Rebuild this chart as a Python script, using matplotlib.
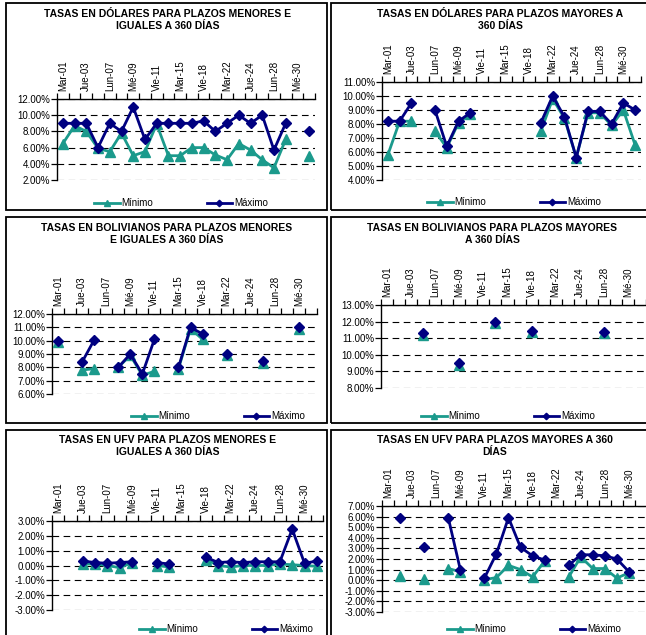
import numpy as np
import matplotlib
matplotlib.use('Agg')
import matplotlib.pyplot as plt
from matplotlib.patches import Rectangle
from matplotlib.ticker import FixedLocator, FuncFormatter

plt.rcParams['font.family'] = ['Liberation Sans', 'DejaVu Sans']

nan = np.nan

# dias del mes (solo se rotulan los de indice par)
dias = ['Mar-01', 'Mié-02', 'Jue-03', 'Vie-04', 'Lun-07', 'Mar-08', 'Mié-09', 'Jue-10',
        'Vie-11', 'Lun-14', 'Mar-15', 'Mié-16', 'Vie-18', 'Lun-21', 'Mar-22', 'Mié-23',
        'Jue-24', 'Vie-25', 'Lun-28', 'Mar-29', 'Mié-30', 'Jue-31']

# tasas en %
usd_menor_min = [6.5, 8.7, 8.0, 5.9, 5.5, 7.8, 5.0, 5.5, 8.9, 5.0, 5.0, 6.0, 6.0, 5.1, 4.5, 6.5, 5.7, 4.5, 3.5, 7.0, nan, 5.0]
usd_menor_max = [9.0, 9.0, 9.0, 6.0, 9.0, 8.0, 11.0, 7.0, 9.0, 9.0, 9.0, 9.0, 9.3, 8.0, 9.0, 10.0, 9.0, 10.0, 5.7, 9.0, nan, 8.0]

usd_mayor_min = [5.8, 8.2, 8.2, nan, 7.5, 6.3, 8.1, 8.7, nan, nan, nan, nan, nan, 7.5, 9.8, 8.4, 5.6, 8.8, 8.8, 7.9, 9.0, 6.5]
usd_mayor_max = [8.2, 8.2, 9.5, nan, 9.0, 6.4, 8.2, 8.8, nan, nan, nan, nan, nan, 8.1, 10.0, 8.5, 5.6, 8.9, 8.9, 8.0, 9.5, 9.0]

bs_menor_min = [9.9, nan, 7.8, 7.9, nan, 8.0, 8.9, 7.4, 7.7, nan, 7.9, 10.9, 10.1, nan, 8.9, nan, nan, 8.3, nan, nan, 10.9, nan]
bs_menor_max = [10.0, nan, 8.4, 10.05, nan, 8.0, 9.0, 7.5, 10.1, nan, 8.0, 11.0, 10.5, nan, 9.0, nan, nan, 8.45, nan, nan, 11.0, nan]

bs_mayor_min = [nan, nan, nan, 11.2, nan, nan, 9.4, nan, nan, 11.9, nan, nan, 11.35, nan, nan, nan, nan, nan, 11.3, nan, nan, nan]
bs_mayor_max = [nan, nan, nan, 11.3, nan, nan, 9.5, nan, nan, 12.0, nan, nan, 11.45, nan, nan, nan, nan, nan, 11.4, nan, nan, nan]

ufv_menor_min = [nan, nan, 0.1, 0.1, 0.0, -0.15, 0.2, nan, 0.0, -0.1, nan, nan, 0.4, 0.0, -0.1, 0.0, 0.0, 0.0, 0.1, 0.05, 0.0, -0.05]
ufv_menor_max = [nan, nan, 0.3, 0.2, 0.15, 0.2, 0.25, nan, 0.2, 0.1, nan, nan, 0.55, 0.2, 0.25, 0.2, 0.25, 0.25, 0.25, 2.45, 0.15, 0.3]

ufv_mayor_min = [nan, 0.4, nan, 0.15, nan, 1.1, 0.8, nan, 0.05, 0.25, 1.4, 1.0, 0.3, 1.8, nan, 0.3, 2.2, 1.1, 1.1, 0.2, 0.7, nan]
ufv_mayor_max = [nan, 5.9, nan, 3.1, nan, 5.9, 1.0, nan, 0.2, 2.5, 5.9, 3.1, 2.3, 1.9, nan, 1.4, 2.4, 2.4, 2.3, 2.0, 0.8, nan]

titulos = ['TASAS EN DÓLARES PARA PLAZOS MENORES E\nIGUALES A 360 DÍAS',
           'TASAS EN DÓLARES PARA PLAZOS MAYORES A\n360 DÍAS',
           'TASAS EN BOLIVIANOS PARA PLAZOS MENORES\nE IGUALES A 360 DÍAS',
           'TASAS EN BOLIVIANOS PARA PLAZOS MAYORES\nA 360 DÍAS',
           'TASAS EN UFV PARA PLAZOS MENORES E\nIGUALES A 360 DÍAS',
           'TASAS EN UFV PARA PLAZOS MAYORES A 360\nDÍAS']
series_min = [usd_menor_min, usd_mayor_min, bs_menor_min, bs_mayor_min, ufv_menor_min, ufv_mayor_min]
series_max = [usd_menor_max, usd_mayor_max, bs_menor_max, bs_mayor_max, ufv_menor_max, ufv_mayor_max]
y_lims = [(2, 12, 2), (4, 11, 1), (6, 12, 1), (8, 13, 1), (-3, 3, 1), (-3, 7, 1)]

# layout en pixeles: caja (l, t, r, b), area de grafico (l, t, r, b), centro titulo, leyenda
W, H = 646, 635
cajas = [(6, 3, 327, 210), (331, 3, 660, 210),
         (6, 217, 327, 423), (331, 217, 660, 423),
         (6, 430, 327, 660), (331, 430, 660, 660)]
areas = [(57, 99, 315, 180), (382, 82, 641, 180),
         (52, 314, 317, 394), (381, 305, 646, 388),
         (52, 521, 323, 610), (382, 506, 647, 612)]
tit_pos = [(168, 20), (500, 20), (167, 234), (492, 234), (168, 446), (495, 446)]
ley_pos = [(181, 203), (514, 202), (218, 416), (508, 416), (226, 629), (534, 629)]

c_min = '#1b9a8c'
c_max = '#000080'

fig = plt.figure(figsize=(W / 100, H / 100), dpi=100)
x = np.arange(len(dias))

for k in range(6):
    l, t, r, b = cajas[k]
    fig.add_artist(Rectangle((l / W, 1 - b / H), (r - l) / W, (b - t) / H,
                             transform=fig.transFigure, fill=False, lw=1.3, color='black'))
    l, t, r, b = areas[k]
    ax = fig.add_axes([l / W, 1 - b / H, (r - l) / W, (b - t) / H])
    ax.plot(x, series_min[k], color=c_min, lw=2.0, marker='^', ms=7, label='Mínimo', zorder=3)
    ax.plot(x, series_max[k], color=c_max, lw=2.0, marker='D', ms=5.5, label='Máximo', zorder=4)

    y0, y1, paso = y_lims[k]
    ax.set_ylim(y0, y1)
    ax.set_xlim(-0.5, len(dias) - 0.5)
    ax.set_yticks(np.arange(y0, y1 + 0.001, paso))
    ax.yaxis.set_major_formatter(FuncFormatter(lambda v, p: f'{v:.2f}%'))
    ax.tick_params(axis='y', direction='out', length=4, width=0.9, labelsize=7, pad=1)
    ax.yaxis.grid(True, linestyle=(0, (6, 4)), color='black', lw=0.8)
    ax.set_axisbelow(True)

    ax.xaxis.tick_top()
    ax.xaxis.set_major_locator(FixedLocator(np.arange(-0.5, len(dias), 1)))
    ax.xaxis.set_major_formatter(FuncFormatter(lambda v, p: ''))
    ax.xaxis.set_minor_locator(FixedLocator(x[::2]))
    ax.set_xticklabels(dias[::2], minor=True, rotation=90, fontsize=7)
    ax.tick_params(axis='x', which='major', direction='out', length=4, width=0.9, top=True)
    ax.tick_params(axis='x', which='minor', length=0, pad=6, top=True)

    for s in ['right', 'bottom']:
        ax.spines[s].set_visible(False)
    ax.spines['left'].set_linewidth(1.0)
    ax.spines['top'].set_linewidth(1.0)

    tx, ty = tit_pos[k]
    fig.text(tx / W, 1 - ty / H, titulos[k], ha='center', va='center', fontsize=7.5,
             fontweight='bold', linespacing=1.25)

    lx, ly = ley_pos[k]
    ax.legend(loc='center', bbox_to_anchor=(lx / W, 1 - ly / H), bbox_transform=fig.transFigure,
              ncol=2, frameon=False, fontsize=7, handlelength=2.6, columnspacing=5.5,
              handletextpad=0.2, markerscale=0.6)

fig.savefig('out.png', dpi=100)
